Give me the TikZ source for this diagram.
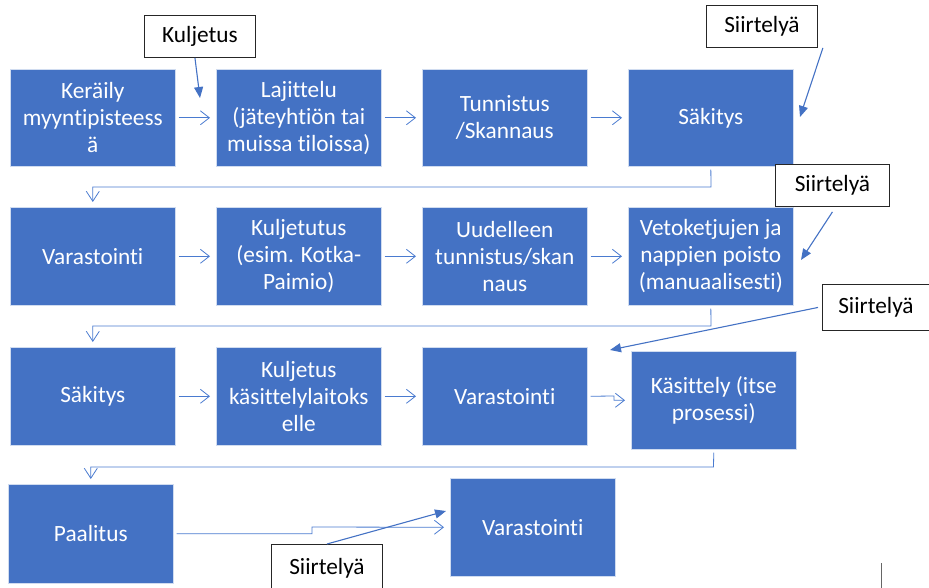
\documentclass[tikz,border=0pt]{standalone}
\usepackage{fontspec}
\setmainfont{Carlito}[Ligatures={NoCommon}]
\usetikzlibrary{arrows.meta}
\definecolor{boxblue}{HTML}{4472C4}
\definecolor{lineblue}{HTML}{4A7BD0}
\begin{document}
\begin{tikzpicture}[x=1pt,y=-1pt,
 proc/.style={fill=boxblue,draw=white!75!boxblue,line width=0.6pt,text=white,minimum width=165pt,minimum height=97pt,inner sep=0pt,align=center,anchor=north west,font=\fontsize{23.3}{27}\selectfont},
 lbl/.style={fill=white,draw=black!85,line width=0.9pt,minimum width=111pt,minimum height=42pt,inner sep=0pt,anchor=north west,font=\fontsize{23.3}{27}\selectfont},
 flow/.style={draw=lineblue,line width=0.8pt,-{Straight Barb[length=9pt,width=14pt,line width=0.8pt]},shorten <=3pt,shorten >=6pt},
 down/.style={draw=lineblue,line width=0.8pt,-{Straight Barb[length=10pt,width=13pt,line width=0.8pt]},shorten <=3pt,shorten >=5pt},
 call/.style={draw=boxblue,line width=1.1pt,-{Triangle[length=11pt,width=9pt]}}
]
\useasboundingbox (0,0) rectangle (929,588);
\begin{scope}
\clip (0,0) rectangle (929,588);
% row 1
\node[proc] (k1) at (10,69) {Keräily\\myyntipisteess\\ä};
\node[proc] (l1) at (216,69) {Lajittelu\\(jäteyhtiön tai\\muissa tiloissa)};
\node[proc] (t1) at (422,69) {Tunnistus\\/Skannaus};
\node[proc] (s1b) at (628,69) {Säkitys};
% row 2
\node[proc,minimum height=98pt] (v2) at (10,207) {Varastointi};
\node[proc,minimum height=98pt] (ku2) at (216,207) {Kuljetutus\\(esim. Kotka-\\Paimio)};
\node[proc,minimum height=98pt] (u2) at (422,207) {Uudelleen\\tunnistus/skan\\naus};
\node[proc,minimum height=98pt] (ve2) at (628,207) {Vetoketjujen ja\\nappien poisto\\(manuaalisesti)};
% row 3
\node[proc,minimum height=98pt] (sa3) at (10,347) {Säkitys};
\node[proc,minimum height=98pt] (ku3) at (216,347) {Kuljetus\\käsittelylaitoks\\elle};
\node[proc,minimum height=98pt] (va3) at (422,347) {Varastointi};
\node[proc,minimum height=98pt] (ka3) at (631,351) {Käsittely (itse\\prosessi)};
% row 4
\node[proc,minimum height=99pt] (pa4) at (8,484) {Paalitus};
\node[proc,minimum height=98pt] (va4) at (450,478) {Varastointi};
% labels
\node[lbl] (kl) at (144,15) {Kuljetus};
\node[lbl] (sl1) at (706,5) {Siirtelyä};
\node[lbl,minimum width=114pt] (sl2) at (775,164) {Siirtelyä};
\node[lbl,minimum width=107pt,minimum height=46pt] (sl3) at (822,284) {Siirtelyä};
\node[lbl,minimum height=48pt] (sl4) at (271,544) {Siirtelyä};
% flow arrows
\draw[flow] (k1.east) -- (l1.west);
\draw[flow] (l1.east) -- (t1.west);
\draw[flow] (t1.east) -- (s1b.west);
\draw[flow] (v2.east) -- (ku2.west);
\draw[flow] (ku2.east) -- (u2.west);
\draw[flow] (u2.east) -- (ve2.west);
\draw[flow] (sa3.east) -- (ku3.west);
\draw[flow] (ku3.east) -- (va3.west);
\coordinate (m3) at (614,396);
\draw[flow] (va3.east) -- (m3) |- (ka3.west);
\coordinate (m4) at (312,527);
\draw[flow] (pa4.east) -| (m4) -- (va4.west);
% returns
\coordinate (c1) at (711,187);
\draw[down] (s1b.south) -- (c1) -| (v2.north);
\coordinate (c2) at (711,326);
\draw[down] (ve2.south) -- (c2) -| (sa3.north);
\coordinate (c3) at (713.5,467);
\draw[down] (ka3.south) -- (c3) -| (pa4.north);
% callouts
\coordinate (p1) at (200,98);
\draw[call] ([xshift=-5pt]kl.south) -- (p1);
\coordinate (p2) at (800,117);
\draw[call] ([xshift=5pt]sl1.south east) -- (p2);
\coordinate (p3) at (801,260);
\draw[call] ([yshift=-5pt]sl2.south) -- (p3);
\coordinate (p4) at (610,350);
\draw[call] ([xshift=-4pt]sl3.west) -- (p4);
\coordinate (p5) at (446,511);
\draw[call] (sl4.north) -- (p5);
% tick
\coordinate (tk1) at (881,563);
\coordinate (tk2) at (881,588);
\draw[black!60,line width=0.8pt] (tk1) -- (tk2);
\end{scope}
\end{tikzpicture}
\end{document}
